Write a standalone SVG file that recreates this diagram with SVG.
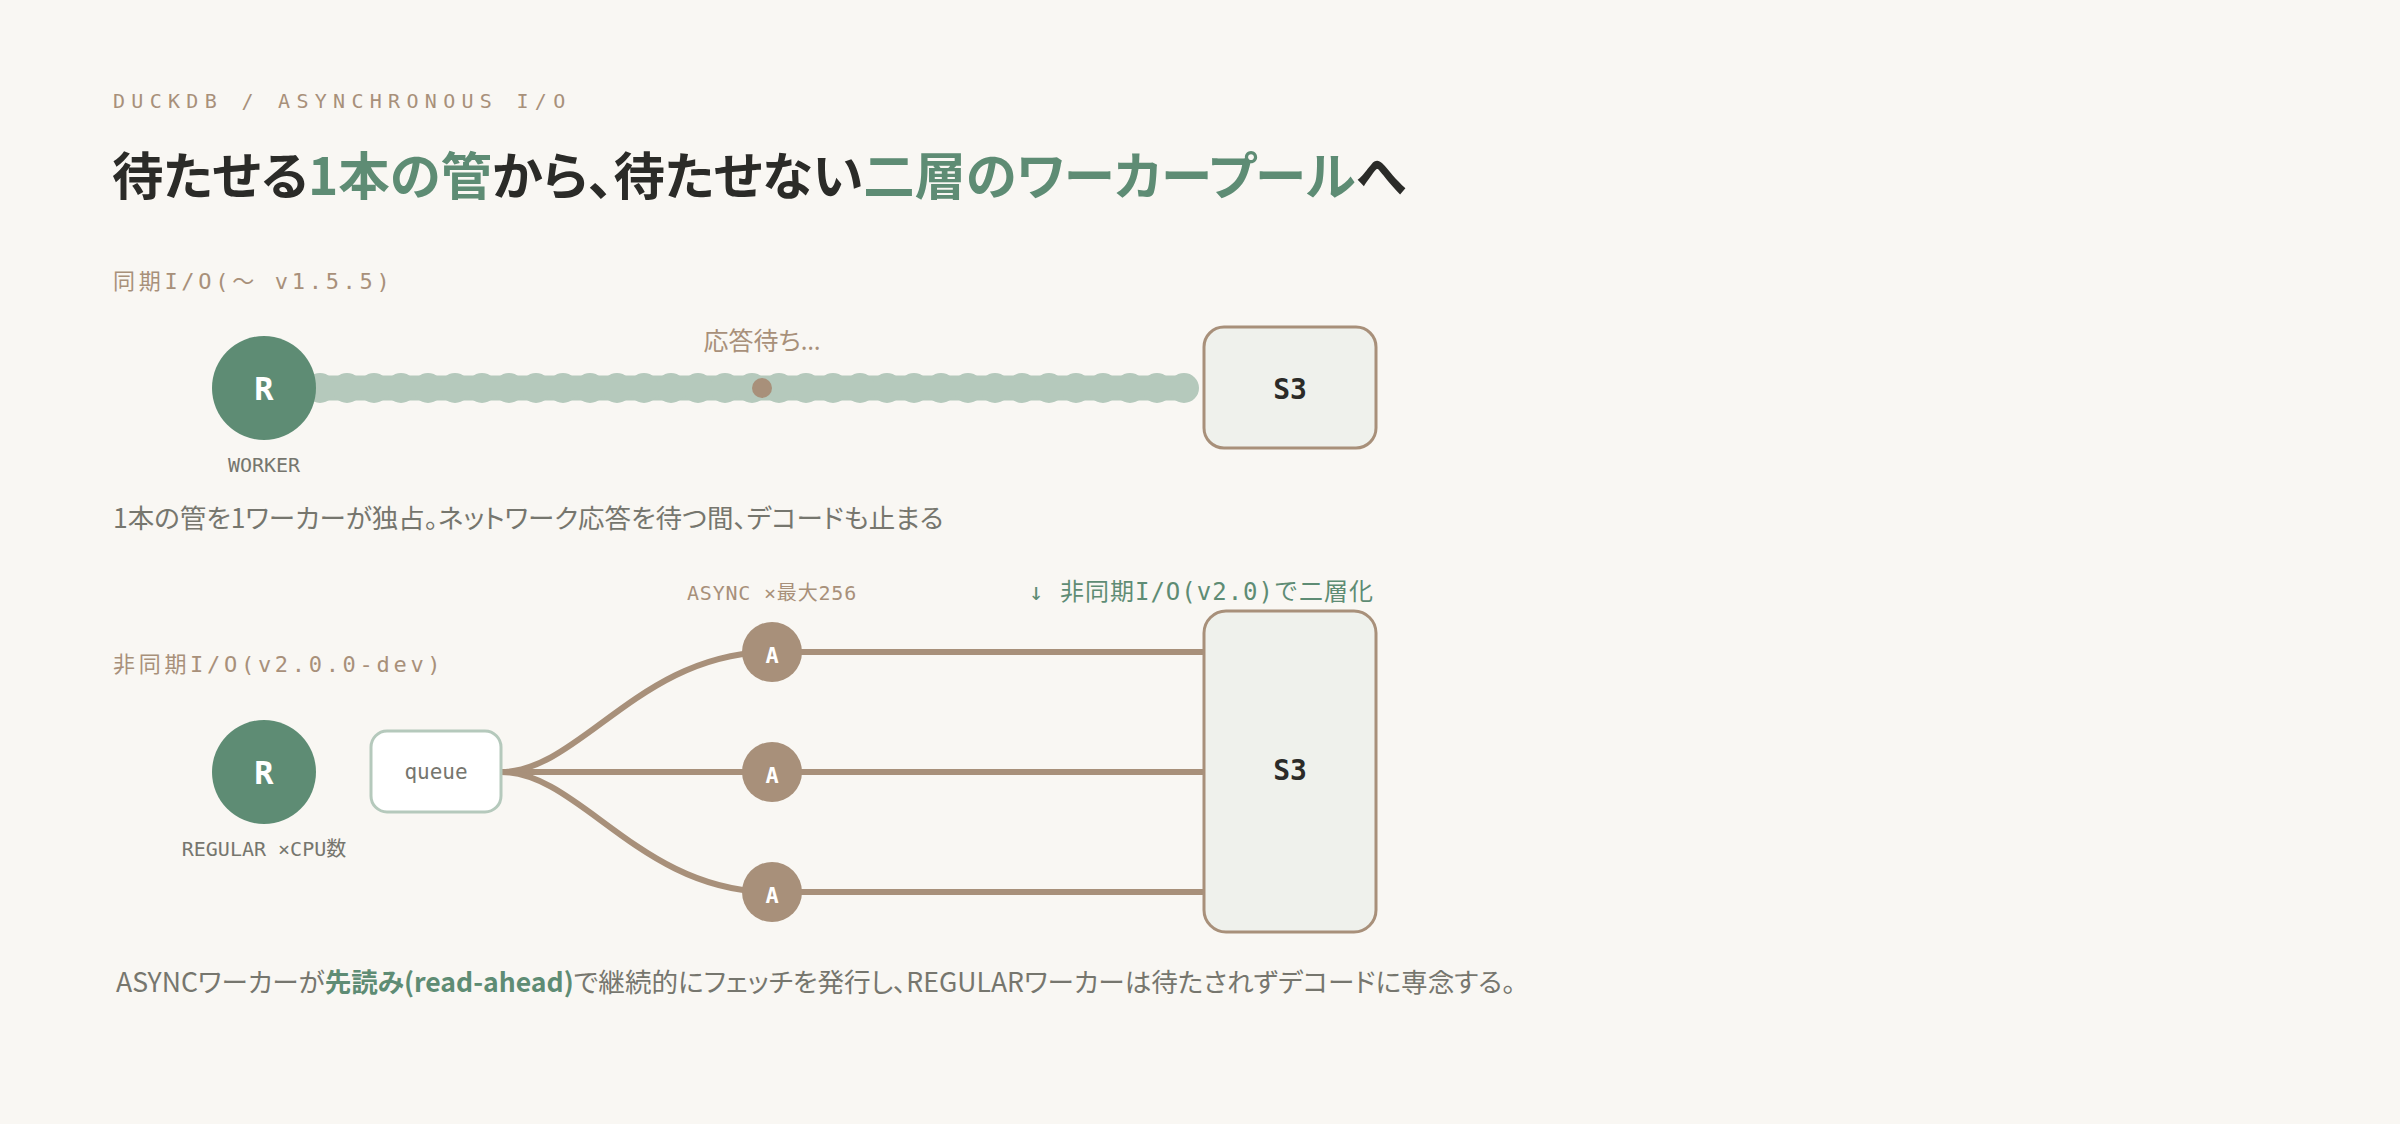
<svg xmlns="http://www.w3.org/2000/svg" width="2400" height="1124" viewBox="0 0 2400 1124">
<style>
.jp{font-family:"Noto Sans CJK JP","Noto Sans",sans-serif;font-feature-settings:"palt" 1;}
.mono{font-family:"DejaVu Sans Mono","Noto Sans CJK JP",monospace;}
.tan{fill:#a8907a;}
.grn{fill:#5e8c74;}
.gray{fill:#76766e;}
.dark{fill:#2b2b28;}
.wlabel{font-family:"DejaVu Sans Mono","Noto Sans CJK JP",monospace;font-size:20px;fill:#76766e;text-anchor:middle;}
.sec{font-family:"DejaVu Sans Mono","Noto Sans CJK JP",monospace;font-size:22px;letter-spacing:3.7px;fill:#a8907a;}
.rnode{fill:#5e8c74;}
.rtxt{font-family:"DejaVu Sans Mono",monospace;font-weight:700;font-size:32px;fill:#ffffff;text-anchor:middle;}
.anode{fill:#a8907a;}
.atxt{font-family:"DejaVu Sans Mono",monospace;font-weight:700;font-size:22px;fill:#ffffff;text-anchor:middle;}
.s3{fill:#eff1ec;stroke:#a8907a;stroke-width:3;}
.s3txt{font-family:"DejaVu Sans Mono",monospace;font-weight:700;font-size:28px;fill:#2b2b28;text-anchor:middle;}
.wire{fill:none;stroke:#a8907a;stroke-width:6;}
.pipe{stroke:#b5c9bc;fill:none;}
</style>
<rect x="0" y="0" width="2400" height="1124" fill="#f9f7f3"/>

<text x="113" y="108" class="mono tan" font-size="20" letter-spacing="6.3">DUCKDB / ASYNCHRONOUS I/O</text>
<text x="112" y="195" class="jp dark" font-size="51.4" font-weight="700">待たせる<tspan class="grn">1本の管</tspan>から、待たせない<tspan class="grn">二層のワーカープール</tspan>へ</text>

<text x="113" y="289" class="sec">同期I/O(〜 v1.5.5)</text>

<g id="connectors">
  <line class="pipe" x1="320" y1="388" x2="1184" y2="388" stroke-width="25"/>
  <line class="pipe" x1="320" y1="388" x2="1185" y2="388" stroke-width="30" stroke-linecap="round" stroke-dasharray="0 27"/>
  <circle cx="762" cy="388" r="10" fill="#a8907a"/>
  <path class="wire" d="M501,772 C580,772 640,652 772,652 L1204,652"/>
  <path class="wire" d="M501,772 L1204,772"/>
  <path class="wire" d="M501,772 C580,772 640,892 772,892 L1204,892"/>
</g>

<text x="762" y="350" class="jp tan" font-size="25" text-anchor="middle">応答待ち<tspan font-family="Noto Sans, sans-serif">…</tspan></text>

<g id="worker-sync">
  <circle class="rnode" cx="264" cy="388" r="52"/>
  <text class="rtxt" x="264" y="400">R</text>
  <text class="wlabel" x="264" y="472">WORKER</text>
</g>

<g id="s3-sync">
  <rect class="s3" x="1204" y="327" width="172" height="121" rx="20"/>
  <text class="s3txt" x="1290" y="399">S3</text>
</g>

<text x="113" y="528" class="jp gray" font-size="26.5">1本の管を1ワーカーが独占。ネットワーク応答を待つ間、デコードも止まる</text>

<text x="772" y="600" class="mono tan" font-size="20" letter-spacing="0.8" text-anchor="middle">ASYNC ×最大256</text>
<text x="1374" y="600" class="mono grn" font-size="24" letter-spacing="1" text-anchor="end">↓ 非同期I/O(v2.0)で二層化</text>

<text x="113" y="672" class="sec">非同期I/O(v2.0.0-dev)</text>

<g id="worker-regular">
  <circle class="rnode" cx="264" cy="772" r="52"/>
  <text class="rtxt" x="264" y="784">R</text>
  <text class="wlabel" x="264" y="856">REGULAR ×CPU数</text>
</g>

<g id="queue">
  <rect x="371" y="731" width="130" height="81" rx="16" fill="#ffffff" stroke="#b5c9bc" stroke-width="3"/>
  <text x="436" y="779" class="mono gray" font-size="21" text-anchor="middle">queue</text>
</g>

<g id="async-1">
  <circle class="anode" cx="772" cy="652" r="30"/>
  <text class="atxt" x="772" y="663">A</text>
</g>
<g id="async-2">
  <circle class="anode" cx="772" cy="772" r="30"/>
  <text class="atxt" x="772" y="783">A</text>
</g>
<g id="async-3">
  <circle class="anode" cx="772" cy="892" r="30"/>
  <text class="atxt" x="772" y="903">A</text>
</g>

<g id="s3-async">
  <rect class="s3" x="1204" y="611" width="172" height="321" rx="22"/>
  <text class="s3txt" x="1290" y="780">S3</text>
</g>

<text x="116" y="992" class="jp gray" font-size="26.6">ASYNCワーカーが<tspan class="grn" font-weight="700">先読み(read-ahead)</tspan>で継続的にフェッチを発行し、REGULARワーカーは待たされずデコードに専念する。</text>
</svg>
